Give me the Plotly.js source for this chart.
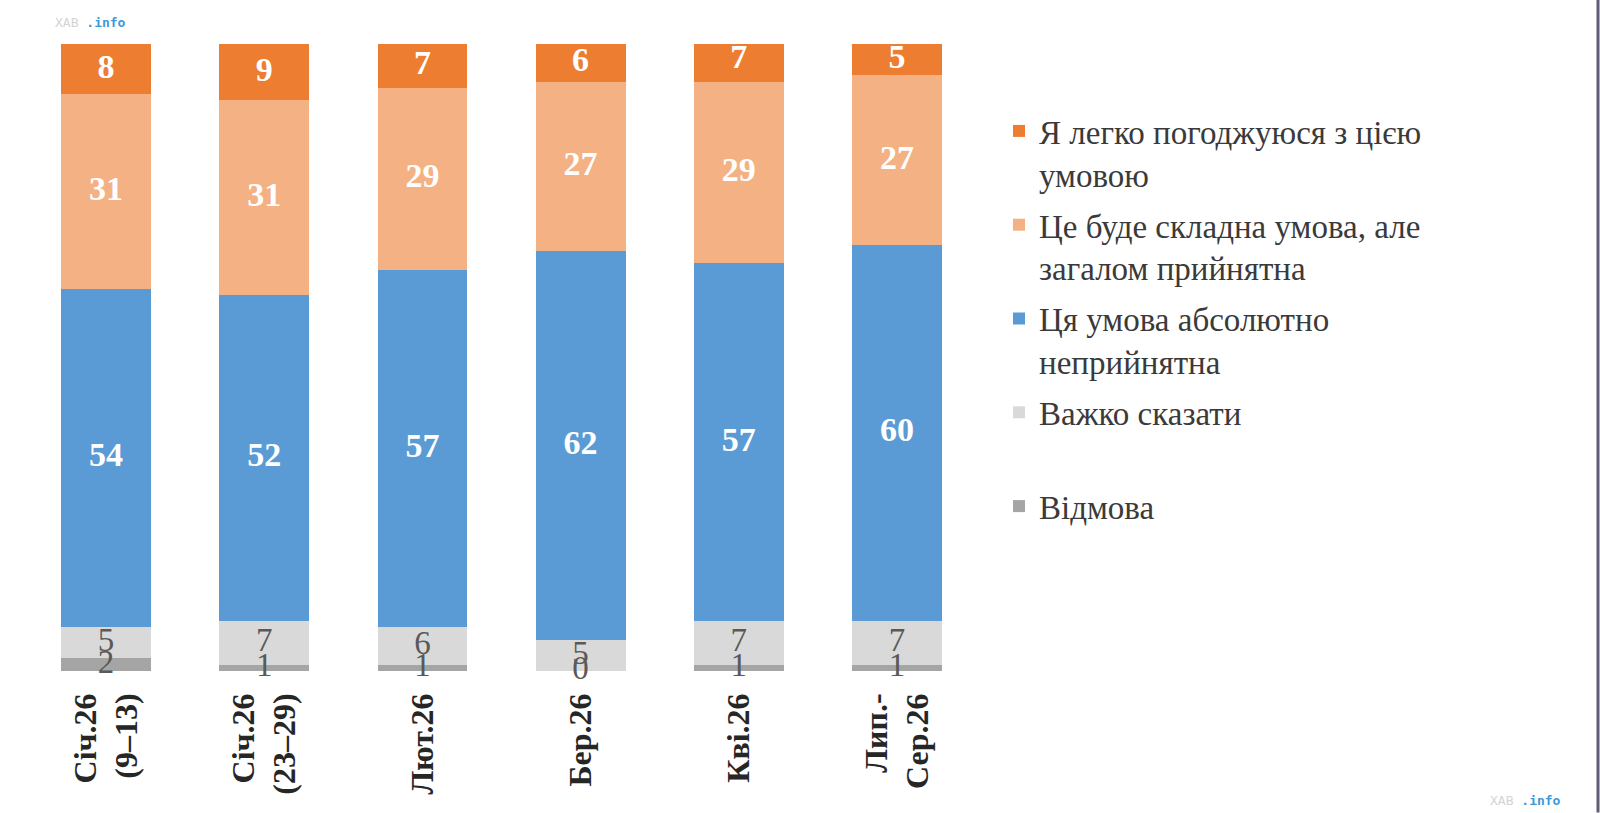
<!DOCTYPE html>
<html>
<head>
<meta charset="utf-8">
<script src="https://cdn.plot.ly/plotly-3.0.1.min.js"></script>
<style>html,body{margin:0;padding:0;background:#fff;}#chart{width:1600px;height:813px;}</style>
</head>
<body>
<div id="chart"></div>
<script>
const categories = ['Січ.26<br>(9–13)', 'Січ.26<br>(23–29)', 'Лют.26', 'Бер.26', 'Кві.26', 'Лип.-<br>Сер.26'];

const seriesNames = [
  'Відмова',
  'Важко сказати<br>\u00a0',
  'Ця умова абсолютно<br>неприйнятна',
  'Це буде складна умова, але<br>загалом прийнятна',
  'Я легко погоджуюся з цією<br>умовою'
];
const refused      = [2, 1, 1, 0, 1, 1];
const hardToSay    = [5, 7, 6, 5, 7, 7];
const unacceptable = [54, 52, 57, 62, 57, 60];
const difficult    = [31, 31, 29, 27, 29, 27];
const easilyAgree  = [8, 9, 7, 6, 7, 5];

const seriesValues = [refused, hardToSay, unacceptable, difficult, easilyAgree];
const seriesColors = ['#a5a5a5', '#d9d9d9', '#5b9bd5', '#f4b183', '#ed7d31'];
const labelColors  = ['#595959', '#595959', '#ffffff', '#ffffff', '#ffffff'];
const labelBold    = [false, false, true, true, true];

const serif = 'Liberation Serif, Times New Roman, serif';

const traces = [];
seriesValues.forEach((vals, i) => {
  traces.push({
    type: 'bar',
    name: seriesNames[i],
    x: categories,
    y: vals,
    marker: {color: seriesColors[i], line: {width: 0}},
    legendgroup: 'g' + i,
    legendrank: 1000 - i * 100,
    hoverinfo: 'skip'
  });
});

// label traces at segment midpoints
const cum = categories.map(() => 0);
seriesValues.forEach((vals, i) => {
  const mids = vals.map((v, j) => { const m = cum[j] + v / 2; cum[j] += v; return m; });
  traces.push({
    type: 'scatter',
    mode: 'text',
    x: categories,
    y: mids,
    text: vals.map(String),
    textposition: 'middle center',
    textfont: {family: serif, size: labelBold[i] ? 34 : 33, color: labelColors[i], weight: labelBold[i] ? 'bold' : 'normal'},
    showlegend: false,
    hoverinfo: 'skip',
    cliponaxis: false
  });
});

const L = 27, R = 624, T = 44, B = 141.5;
const W = 1600 - L - R, H = 813 - T - B;
const px = x => (x - L) / W;
const py = y => (813 - B - y) / H;

const layout = {
  width: 1600,
  height: 813,
  margin: {l: L, r: R, t: T, b: B},
  paper_bgcolor: '#ffffff',
  plot_bgcolor: '#ffffff',
  barmode: 'stack',
  bargap: 0.432,
  showlegend: true,
  legend: {
    x: px(999),
    xanchor: 'left',
    y: py(103),
    yanchor: 'top',
    traceorder: 'grouped',
    tracegroupgap: 5,
    valign: 'top',
    font: {family: serif, size: 33, color: '#3a3a3a'},
    bgcolor: 'rgba(0,0,0,0)'
  },
  xaxis: {
    type: 'category',
    tickangle: -90,
    showline: false,
    showgrid: false,
    zeroline: false,
    ticks: '',
    ticklabelstandoff: 15,
    tickfont: {family: serif, size: 32, color: '#262626', weight: 'bold'}
  },
  yaxis: {
    range: [0, 100],
    visible: false,
    showgrid: false,
    zeroline: false
  },
  annotations: [
    {xref: 'paper', yref: 'paper', x: px(53), y: py(22.5), xanchor: 'left', yanchor: 'middle', showarrow: false,
     text: "<span style='color:#d4d4d4'>ХАВ</span> <b><span style='color:#3d9ad8'>.info</span></b>",
     font: {family: 'DejaVu Sans Mono, monospace', size: 13}},
    {xref: 'paper', yref: 'paper', x: px(1488), y: py(801), xanchor: 'left', yanchor: 'middle', showarrow: false,
     text: "<span style='color:#d4d4d4'>ХАВ</span> <b><span style='color:#3d9ad8'>.info</span></b>",
     font: {family: 'DejaVu Sans Mono, monospace', size: 13}}
  ],
  shapes: [
    {type: 'line', xref: 'paper', yref: 'paper', x0: px(1598), x1: px(1598), y0: py(0), y1: py(813),
     line: {color: '#5f5c74', width: 3}}
  ]
};

Plotly.newPlot('chart', traces, layout, {displayModeBar: false, staticPlot: true});
</script>
</body>
</html>
